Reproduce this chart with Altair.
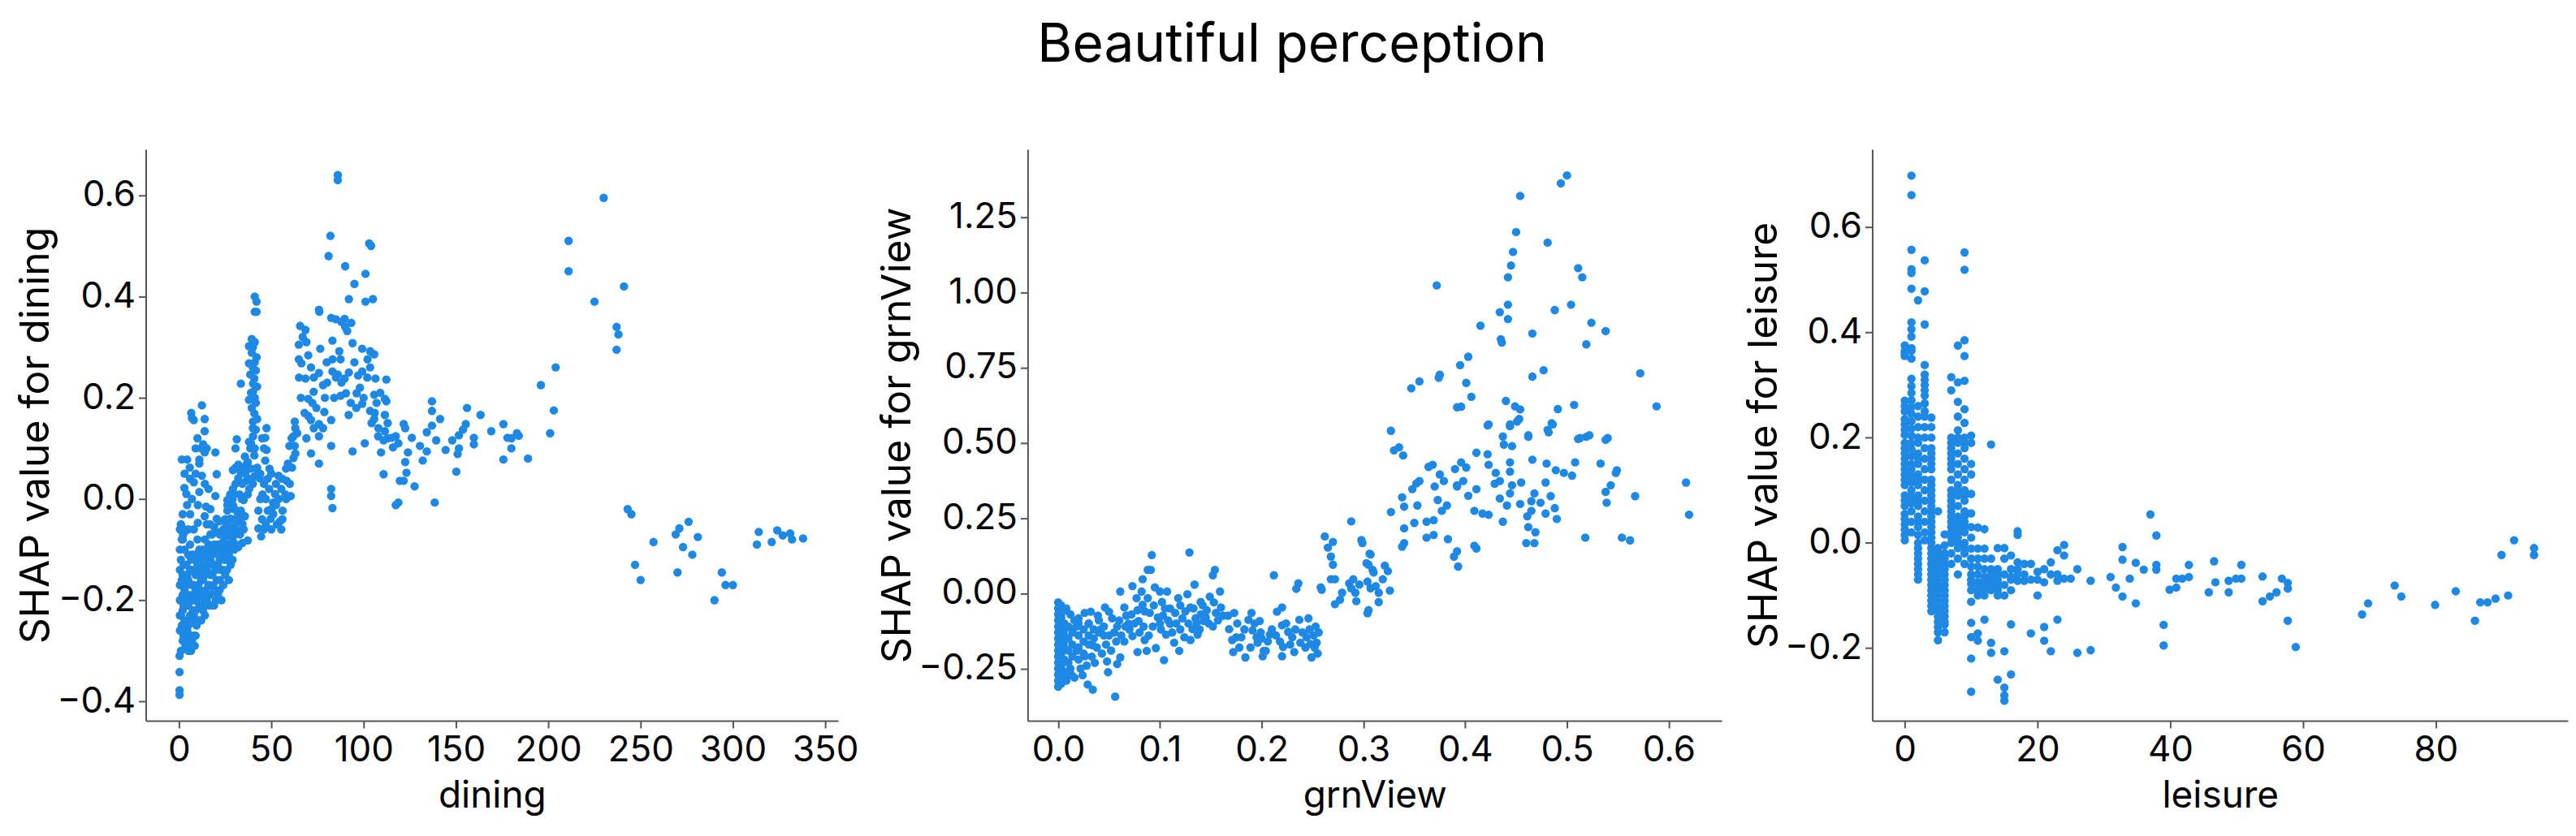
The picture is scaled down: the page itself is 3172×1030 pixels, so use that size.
import altair as alt
import pandas as pd

TITLE = "Beautiful perception"
BLUE = "#1E88E5"

# ---------------- dining (x = dining, y = SHAP value) ----------------
dining_low = [
    (0.3,-0.387),(0.3,-0.378),(0.3,-0.342),(0.3,-0.31),(0.5,-0.23),(0.5,-0.26),(1.5,-0.25),(2.5,-0.27),
    (3.5,-0.29),(4.5,-0.26),(5.5,-0.28),(6.5,-0.3),(7.5,-0.27),(8.5,-0.29),(9.5,-0.25),(10.5,-0.24),
    (3,-0.24),(6,-0.23),(8,-0.23),(7,-0.24),(9,-0.22),(12,-0.24),(5,-0.3),(6,-0.29),(4,-0.27),(7,-0.28),
    (2,-0.28),(1,-0.3),(5,-0.25),(9,-0.27),
]
dining_blob = [
    (1,-0.12),(2,-0.15),(3,-0.18),(1,-0.2),(2,-0.22),(4,-0.13),(5,-0.16),(6,-0.19),(4,-0.21),(5,-0.11),
    (7,-0.14),(8,-0.17),(7,-0.2),(9,-0.12),(10,-0.15),(9,-0.18),(11,-0.21),(12,-0.13),(13,-0.16),(12,-0.19),
    (14,-0.11),(15,-0.14),(16,-0.17),(15,-0.2),(17,-0.12),(18,-0.15),(19,-0.18),(18,-0.21),(20,-0.1),(21,-0.13),
    (22,-0.16),(21,-0.19),(23,-0.11),(24,-0.14),(25,-0.12),(26,-0.09),(27,-0.11),(28,-0.13),(29,-0.08),(30,-0.1),
    (3,-0.1),(6,-0.09),(0.5,-0.14),(0.5,-0.17),(0.5,-0.1),(11,-0.18),(13,-0.22),(16,-0.21),(20,-0.2),(22,-0.18),
    (24,-0.17),(19,-0.09),(14,-0.08),(17,-0.07),(10,-0.08),(25,-0.15),(11,-0.1),(2,-0.08),(5,-0.06),(1,-0.05),
    (3,-0.065),(14,-0.2),(23,-0.2),(26,-0.14),(27,-0.16),(29,-0.12),(28,-0.06),(31,-0.06),(31,-0.09),(33,-0.07),
    (13,-0.1),(15,-0.05),(17,-0.02),(4,0.01),(6,-0.03),(8,-0.06),(2,-0.03),(8,-0.11),(10,-0.11),(12,-0.16),
    (14,-0.15),(16,-0.13),(18,-0.11),(20,-0.14),(22,-0.12),(24,-0.1),(3,-0.21),(6,-0.14),(9,-0.15),(11,-0.14),
    (13,-0.19),(17,-0.15),(19,-0.13),(21,-0.09),(23,-0.07),(7,-0.17),(4,-0.17),(2,-0.19),(10,-0.19),(15,-0.1),
    (26,-0.05),(1.5,-0.16),(2.5,-0.13),(3.5,-0.2),(4.5,-0.15),(5.5,-0.2),(6.5,-0.12),(7.5,-0.22),(8.5,-0.14),
    (9.5,-0.2),(10.5,-0.17),(11.5,-0.12),(12.5,-0.21),(13.5,-0.14),(14.5,-0.18),(15.5,-0.12),(16.5,-0.19),
    (17.5,-0.1),(18.5,-0.17),(19.5,-0.14),(20.5,-0.16),(21.5,-0.11),(22.5,-0.14),(23.5,-0.09),(24.5,-0.12),
    (25.5,-0.07),(27.5,-0.09),(28.5,-0.04),(30.5,-0.07),(32,-0.03),(1,-0.23),(2,-0.25),(3,-0.27),(4,-0.24),
    (1.5,-0.08),(0.5,-0.06),(0.5,-0.2),(2.5,-0.21),(5,-0.21),(8,-0.2),(11,-0.24),(14,-0.23),(17,-0.21),
    (19,-0.21),(3,-0.15),(7,-0.11),(10,-0.13),(16,-0.09),(18,-0.07),(22,-0.07),(25,-0.04),(27,-0.02),
    (30,-0.02),(29,0.0),(24,-0.06),
]
dining_column = [
    (12.4,0.185),(6.6,0.17),(8,0.156),(13.9,0.158),(13.9,0.134),(13.1,0.108),(13.9,0.092),(11,0.078),
    (1.5,0.078),(4.4,0.078),(5.8,0.062),(19.7,0.092),(20.4,0.049),(12.4,0.046),(8,0.033),(2.9,0.022),
    (11,0.014),(19.7,0.006),(4.4,-0.012),(10.2,-0.012),(14.6,-0.015),(1.5,-0.055),(2.2,-0.071),(10.2,-0.047),
    (13.9,-0.034),(20.4,-0.039),(19,-0.055),(16.8,-0.05),(7,0.16),(12,0.1),(11,0.07),(9,0.05),(14,0.03),
    (7,0.0),(16,0.02),(6,0.04),(3,0.05),(9,0.1),(10,0.12),(15,0.1),
]
dining_band = [
    (26.2,-0.002),(27.7,0.009),(29.2,0.02),(30.6,0.03),(32.1,0.041),(33.5,0.052),(35,0.062),(36.5,0.068),
    (30.6,0.062),(32.8,0.009),(35,-0.002),(36.5,0.036),(37.2,0.009),(35.7,-0.034),(35,-0.06),(37.2,-0.082),
    (34.3,-0.087),(32.1,-0.095),(26.2,-0.023),(24.8,-0.044),(27.7,-0.039),(29.2,-0.012),(31.3,-0.023),
    (26.2,-0.06),(28.4,-0.076),(24.8,-0.076),(23.3,-0.087),(29.9,-0.055),(32.8,-0.044),(33.5,-0.023),
    (29.9,0.009),(34.3,0.03),(35.7,0.084),(32.1,0.068),(29.2,0.057),(26.2,-0.012),(21.9,-0.044),(21.1,-0.066),
    (32.1,-0.066),(34.3,-0.049),(31.3,0.118),(30.6,0.1),(33.5,0.228),(38,0.02),(36,0.05),(34,0.0),(31,-0.04),
    (28,-0.1),(25,-0.1),(22,-0.09),
]
dining_spike = [
    (41,0.40),(42,0.39),(41,0.37),(42,0.37),(39.4,0.316),(37.9,0.302),(39.4,0.289),(37.9,0.268),(41.6,0.254),
    (38.6,0.246),(40.8,0.238),(40.1,0.228),(42.3,0.222),(40.1,0.212),(40.8,0.198),(37.9,0.196),(41.6,0.19),
    (39.4,0.18),(40.8,0.169),(42.3,0.158),(40.1,0.153),(41.6,0.137),(40.1,0.124),(37.9,0.113),(38.6,0.1),
    (40.8,0.086),(37.2,0.073),(39,0.06),(41,0.045),(40,0.26),(41,0.27),(39,0.21),(41,0.2),(40,0.14),
    (39,0.11),(41,0.1),(42,0.06),(40,0.03),(38,0.04),(41,0.31),(40,0.3),(42,0.28),
]
dining_mid = [
    (42.3,0.062),(46.7,0.076),(47.4,0.097),(46.7,0.121),(47.4,0.14),(43.7,0.041),(45.2,0.009),(43,-0.023),
    (43,-0.058),(44.5,-0.074),(49.6,-0.039),(51,-0.007),(52.5,0.03),(53.9,0.046),(55.4,-0.06),(54.7,-0.044),
    (56.1,-0.023),(57.6,0.009),(58.3,0.036),(60.5,0.006),(61.2,0.062),(62,0.081),(62.7,0.105),(62,0.124),
    (62.7,0.153),(59.8,0.105),(48.8,0.02),(52.5,-0.012),(48.1,-0.023),(55.4,0.02),(45,-0.04),(47,0.0),
    (50,0.05),(53,-0.05),(56,0.04),(58,0.06),(46,0.03),(51,-0.03),(44,0.0),(49,0.06),(44,0.05),(46,-0.06),
    (48,0.04),(50,-0.02),(52,0.01),(54,0.0),(56,-0.04),(58,0.0),(60,0.03),(59,0.07),(63,0.09),(61,0.12),
    (63,0.14),(64,0.13),(50,-0.06),(47,-0.05),(46,0.1),(45,0.12),
]
dining_cloud = [
    (86,0.64),(86,0.63),(82,0.52),(81,0.48),(90,0.46),(103,0.505),(104,0.5),(101,0.445),(95,0.425),
    (92,0.395),(101,0.39),(105,0.395),(76,0.37),(75.8,0.374),(65.6,0.342),(68.5,0.334),(64.9,0.305),
    (70,0.284),(64.9,0.276),(66.3,0.268),(71.5,0.26),(75.8,0.249),(68.5,0.238),(76.5,0.297),(82.4,0.358),
    (89.7,0.356),(93.3,0.348),(91.1,0.332),(83.1,0.313),(94,0.308),(86.8,0.292),(87.5,0.276),(83.1,0.276),
    (99.2,0.297),(103.5,0.292),(105.7,0.286),(102.1,0.276),(103.5,0.26),(99.2,0.252),(97,0.244),(83.1,0.252),
    (86,0.246),(89.7,0.238),(80.2,0.23),(78,0.225),(106.4,0.238),(112.3,0.236),(96.2,0.209),(90.4,0.209),
    (87.5,0.204),(72.9,0.212),(70,0.198),(72.2,0.19),(74.4,0.18),(105.7,0.206),(111.5,0.198),(112.3,0.193),
    (99.2,0.188),(91.9,0.166),(78.7,0.172),(82.4,0.156),(70,0.164),(71.5,0.156),(75.8,0.148),(78,0.14),
    (75.8,0.124),(103.5,0.174),(105.7,0.158),(104.3,0.15),(111.5,0.166),(113,0.15),(111.5,0.134),(107.9,0.124),
    (110.8,0.116),(82.4,0.105),(71.5,0.09),(75.8,0.07),(94,0.094),(100.6,0.11),(109.4,0.092),(110.8,0.049),
    (82.4,0.02),(82.4,0.006),(83.1,-0.018),(88,0.35),(90,0.34),(85,0.355),(67,0.32),(69,0.31),(73,0.24),
    (80,0.27),(85,0.24),(88,0.23),(92,0.25),(95,0.27),(98,0.22),(100,0.2),(102,0.24),(107,0.19),(109,0.21),
    (106,0.17),(108,0.14),(113,0.12),(79,0.2),(84,0.2),(93,0.19),(96,0.18),(68,0.17),(73,0.14),(69,0.12),
    (66,0.2),(65,0.24),
]
dining_tail = [
    (115.2,0.121),(117.4,0.124),(118.8,0.11),(115.9,0.102),(121.7,0.148),(122.5,0.14),(126.1,0.121),(124,0.092),
    (122.5,0.073),(123.2,0.052),(121.7,0.036),(119.6,0.036),(127.6,0.025),(118.8,-0.007),(117.4,-0.012),
    (130.5,0.105),(132,0.076),(134.2,0.094),(137,0.193),(137,0.174),(141.4,0.158),(137,0.145),(134.2,0.132),
    (139.3,0.116),(144.4,0.097),(138.5,-0.007),(148,0.116),(151.6,0.126),(153.8,0.137),(155.3,0.148),(156,0.18),
    (151.6,0.1),(150.9,0.089),(150.2,0.054),(159.7,0.121),(159.7,0.108),(163.3,0.166),(169.1,0.134),
    (175.7,0.148),(177.9,0.121),(175.7,0.078),(180,0.12),(183,0.13),(184,0.125),(180,0.1),(189,0.08),
]
dining_far = [
    (196,0.225),(201,0.13),(203,0.175),(204,0.26),(211,0.51),(211,0.45),(225,0.39),(230,0.595),(237,0.34),
    (238,0.325),(237,0.295),(241,0.42),(243,-0.02),(245,-0.03),(247,-0.13),(250,-0.16),(257,-0.085),
    (269,-0.07),(271,-0.058),(270,-0.145),(273,-0.095),(276,-0.045),(278,-0.11),(281,-0.075),(290,-0.2),
    (294,-0.145),(296,-0.17),(300,-0.17),(313,-0.09),(314,-0.065),(321,-0.085),(324,-0.062),(327,-0.072),
    (331,-0.068),(332,-0.08),(338,-0.078),
]

# ---------------- grnView ----------------
grn_zero = [
    (0,-0.03),(0,-0.05),(0,-0.07),(0,-0.09),(0,-0.11),(0,-0.13),(0,-0.15),(0,-0.17),(0,-0.19),(0,-0.21),
    (0,-0.23),(0,-0.25),(0,-0.27),(0,-0.29),(0,-0.31),(0.003,-0.04),(0.003,-0.08),(0.003,-0.12),(0.003,-0.16),
    (0.003,-0.2),(0.003,-0.24),(0.003,-0.28),(0.003,-0.3),(0.006,-0.1),(0.006,-0.14),(0.006,-0.18),
    (0.006,-0.22),(0.006,-0.26),(0.006,-0.12),(0.006,-0.16),(0.01,-0.11),(0.01,-0.15),(0.01,-0.19),
    (0.01,-0.23),(0.01,-0.27),(0.014,-0.13),(0.014,-0.17),(0.014,-0.21),(0.014,-0.12),(0.02,-0.14),
    (0.02,-0.18),(0.02,-0.22),(0.02,-0.1),(0.025,-0.12),(0.025,-0.16),(0.025,-0.2),(0.03,-0.1),(0.03,-0.14),
    (0.03,-0.17),(0.035,-0.12),(0.035,-0.15),(0.04,-0.09),(0.04,-0.13),(0.045,-0.11),(0.045,-0.14),
    (0.008,-0.05),(0.012,-0.07),(0.016,-0.09),(0.022,-0.25),(0.028,-0.24),(0.033,-0.21),(0.038,-0.18),
    (0.043,-0.2),(0.047,-0.17),(0.008,-0.29),(0.012,-0.25),(0.016,-0.28),(0.005,-0.06),(0.002,-0.2),
]
grn_low = [
    (0.013,-0.271),(0.024,-0.272),(0.029,-0.303),(0.034,-0.32),(0.056,-0.343),(0.049,-0.262),(0.048,-0.226),
    (0.058,-0.235),(0.061,-0.213),(0.036,-0.231),(0.026,-0.209),(0.034,-0.173),(0.018,-0.191),(0.018,-0.11),
    (0.02,-0.083),(0.026,-0.065),(0.032,-0.061),(0.03,-0.101),(0.039,-0.074),(0.042,-0.119),(0.046,-0.047),
    (0.05,-0.061),(0.053,-0.083),(0.057,-0.16),(0.058,-0.11),(0.061,0.006),(0.065,-0.047),(0.067,-0.074),
    (0.069,-0.101),(0.073,-0.142),(0.073,0.024),(0.077,-0.016),(0.078,-0.056),(0.079,-0.092),(0.082,0.006),
    (0.083,0.047),(0.083,-0.038),(0.085,-0.155),(0.078,-0.195),(0.087,-0.191),(0.088,0.078),(0.091,0.078),
    (0.092,0.127),(0.088,-0.016),(0.09,-0.065),(0.093,-0.11),(0.095,0.02),(0.096,-0.182),(0.1,0.006),
    (0.102,-0.029),(0.103,-0.074),(0.104,-0.222),(0.106,-0.137),(0.107,0.006),(0.11,-0.101),(0.114,-0.164),
    (0.115,-0.065),(0.118,-0.016),(0.119,-0.191),(0.122,-0.083),(0.124,-0.146),(0.127,-0.003),(0.129,0.136),
    (0.13,-0.155),(0.13,-0.047),(0.132,-0.119),(0.134,0.029),(0.135,-0.083),(0.137,-0.137),(0.14,-0.029),
    (0.143,-0.092),(0.146,-0.056),(0.149,-0.011),(0.152,0.06),(0.154,0.078),(0.152,-0.11),(0.155,-0.065),
    (0.159,0.006),(0.16,-0.047),(0.162,-0.074),(0.06,-0.09),(0.07,-0.12),(0.11,-0.05),(0.12,-0.12),
    (0.14,-0.07),(0.1,-0.1),(0.085,-0.06),(0.05,-0.14),(0.065,-0.16),(0.052,-0.19),(0.055,-0.13),
    (0.062,-0.14),(0.066,-0.11),(0.072,-0.07),(0.075,-0.1),(0.08,-0.13),(0.084,-0.11),(0.089,-0.14),
    (0.094,-0.04),(0.098,-0.08),(0.101,-0.12),(0.105,-0.05),(0.108,-0.09),(0.112,-0.13),(0.116,-0.1),
    (0.12,-0.04),(0.125,-0.06),(0.128,-0.1),(0.133,-0.05),(0.136,-0.1),(0.139,-0.12),(0.142,-0.04),
    (0.145,-0.08),(0.148,-0.1),(0.153,-0.03),(0.157,-0.09),
]
grn_mid = [
    (0.167,-0.074),(0.173,-0.065),(0.168,-0.119),(0.171,-0.155),(0.172,-0.195),(0.175,-0.146),(0.18,-0.146),
    (0.184,-0.213),(0.187,-0.088),(0.19,-0.065),(0.191,-0.123),(0.195,-0.146),(0.196,-0.164),(0.198,-0.092),
    (0.201,-0.209),(0.202,-0.191),(0.204,-0.191),(0.208,-0.137),(0.212,0.06),(0.215,-0.061),(0.22,-0.047),
    (0.22,-0.106),(0.221,-0.178),(0.22,-0.209),(0.226,-0.128),(0.23,-0.146),(0.232,-0.195),(0.234,0.015),
    (0.236,0.033),(0.237,-0.088),(0.238,-0.164),(0.244,-0.146),(0.246,-0.083),(0.248,-0.168),(0.249,-0.213),
    (0.253,-0.11),(0.254,-0.164),(0.255,-0.2),(0.258,0.02),(0.262,0.189),(0.265,0.152),(0.27,0.171),
    (0.268,0.122),(0.27,0.095),(0.268,0.047),(0.272,0.047),(0.259,0.012),(0.299,0.167),(0.307,0.129),
    (0.305,0.095),(0.31,0.069),(0.321,0.092),(0.324,0.074),(0.319,0.047),(0.326,0.009),(0.315,0.002),
    (0.312,0.024),(0.307,0.017),(0.315,-0.029),(0.304,-0.066),(0.293,-0.026),(0.29,0.047),(0.288,0.017),
    (0.279,0.002),(0.277,-0.021),(0.272,-0.036),(0.292,0.002),(0.296,0.029),(0.304,0.039),(0.288,0.239),
    (0.286,0.033),(0.298,0.177),(0.303,0.1),(0.306,0.132),(0.309,0.078),(0.305,-0.056),
    (0.176,-0.1),(0.183,-0.12),(0.189,-0.18),(0.193,-0.1),(0.199,-0.13),(0.206,-0.16),(0.21,-0.12),
    (0.214,-0.14),(0.218,-0.16),(0.224,-0.1),(0.228,-0.17),(0.233,-0.12),(0.24,-0.13),(0.243,-0.18),
    (0.247,-0.12),(0.251,-0.14),(0.256,-0.13),(0.252,-0.18),(0.178,-0.18),(0.2,-0.15),
]
grn_high = [
    (0.5,1.388),(0.494,1.362),(0.454,1.32),(0.45,1.2),(0.481,1.165),(0.447,1.134),(0.445,1.089),(0.442,1.05),
    (0.511,1.08),(0.515,1.05),(0.372,1.023),(0.504,0.959),(0.442,0.959),(0.488,0.941),(0.434,0.934),
    (0.442,0.911),(0.415,0.889),(0.524,0.899),(0.538,0.871),(0.466,0.863),(0.435,0.844),(0.436,0.833),
    (0.519,0.827),(0.403,0.786),(0.395,0.758),(0.477,0.741),(0.572,0.731),(0.375,0.726),(0.374,0.716),
    (0.466,0.72),(0.355,0.704),(0.347,0.681),(0.401,0.699),(0.406,0.653),(0.44,0.639),(0.507,0.626),
    (0.588,0.621),(0.449,0.621),(0.454,0.611),(0.491,0.612),(0.392,0.618),(0.396,0.62),(0.422,0.558),
    (0.486,0.561),(0.444,0.555),(0.451,0.571),(0.327,0.54),(0.462,0.52),(0.482,0.535),(0.511,0.513),
    (0.519,0.52),(0.538,0.51),(0.389,0.122),(0.393,0.089),(0.411,0.149),(0.338,0.155),
]
grn_cloud = [
    (0.335,0.485),(0.339,0.458),(0.368,0.427),(0.375,0.395),(0.379,0.373),(0.39,0.413),(0.392,0.359),
    (0.396,0.435),(0.401,0.418),(0.398,0.373),(0.411,0.467),(0.422,0.462),(0.423,0.427),(0.43,0.4),
    (0.429,0.364),(0.434,0.373),(0.444,0.435),(0.444,0.404),(0.446,0.359),(0.444,0.332),(0.455,0.368),
    (0.466,0.444),(0.48,0.431),(0.489,0.409),(0.497,0.4),(0.505,0.391),(0.508,0.435),(0.533,0.431),
    (0.549,0.409),(0.479,0.368),(0.468,0.332),(0.465,0.306),(0.474,0.301),(0.484,0.323),(0.488,0.283),
    (0.49,0.247),(0.479,0.265),(0.461,0.256),(0.465,0.274),(0.454,0.297),(0.441,0.292),(0.434,0.315),
    (0.437,0.238),(0.462,0.22),(0.469,0.203),(0.46,0.167),(0.468,0.167),(0.518,0.185),(0.554,0.185),
    (0.562,0.176),(0.539,0.301),(0.538,0.337),(0.543,0.359),(0.567,0.323),(0.617,0.368),(0.62,0.261),
    (0.409,0.274),(0.417,0.265),(0.423,0.261),(0.403,0.324),(0.411,0.346),(0.392,0.355),(0.382,0.292),
    (0.377,0.274),(0.373,0.31),(0.369,0.243),(0.362,0.238),(0.35,0.234),(0.353,0.292),(0.348,0.346),
    (0.338,0.319),(0.34,0.216),(0.327,0.27),(0.34,0.288),(0.37,0.355),(0.355,0.373),(0.383,0.18),
    (0.409,0.158),(0.34,0.167),(0.362,0.185),(0.369,0.194),(0.392,0.14),(0.437,0.521),(0.438,0.494),
    (0.446,0.489),(0.481,0.543),(0.485,0.565),(0.513,0.516),(0.522,0.525),(0.54,0.516),(0.462,0.525),
    (0.423,0.561),(0.444,0.561),(0.453,0.579),(0.33,0.475),(0.364,0.42),(0.548,0.4),(0.352,0.365),
]

# ---------------- leisure ----------------
leisure_0_3 = [
    (0,0.375),(0,0.365),(0,0.36),(0,0.355),(0,0.27),(0,0.26),(0,0.25),(0,0.235),(0,0.225),(0,0.215),
    (0,0.205),(0,0.19),(0,0.18),(0,0.17),(0,0.16),(0,0.15),(0,0.14),(0,0.13),(0,0.12),(0,0.11),(0,0.09),
    (0,0.08),(0,0.07),(0,0.055),(0,0.045),(0,0.035),(0,0.025),(0,0.015),(0,0.005),
    (1,0.698),(1,0.661),(1,0.557),(1,0.52),(1,0.513),(1,0.483),(1,0.419),(1,0.406),(1,0.392),(1,0.37),
    (1,0.365),(1,0.35),(1,0.312),(1,0.298),(1,0.285),(1,0.271),(1,0.258),(1,0.245),(1,0.231),(1,0.217),
    (1,0.204),(1,0.19),(1,0.178),(1,0.165),(1,0.15),(1,0.14),(1,0.128),(1,0.115),(1,0.1),(1,0.088),
    (1,0.075),(1,0.06),(1,0.04),(1,0.02),
    (2,0.461),(2,0.26),(2,0.22),(2,0.19),(2,0.17),(2,0.15),(2,0.13),(2,0.11),(2,0.09),(2,0.07),(2,0.05),
    (2,0.03),(2,0.015),(2,-0.01),(2,-0.03),(2,-0.05),(2,-0.07),(2,0.24),(2,0.2),(2,0.16),(2,0.12),(2,0.08),
    (2,0.04),(2,0.0),(2,-0.02),(2,-0.04),(2,-0.06),
    (3,0.537),(3,0.478),(3,0.415),(3,0.338),(3,0.32),(3,0.31),(3,0.3),(3,0.29),(3,0.28),(3,0.265),(3,0.25),
    (3,0.24),(3,0.22),(3,0.2),(3,0.18),(3,0.16),(3,0.14),(3,0.12),(3,0.1),(3,0.08),(3,0.06),(3,0.04),
    (3,0.02),(3,0.005),
]
leisure_4_9 = [
    (4,0.238),(4,0.2),(4,0.17),(4,0.15),(4,0.12),(4,0.1),(4,0.08),(4,0.06),(4,0.04),(4,0.02),(4,0.0),
    (4,-0.02),(4,-0.04),(4,-0.06),(4,-0.08),(4,-0.1),(4,-0.12),(4,-0.13),(4,0.22),(4,0.18),(4,0.16),
    (4,0.14),(4,0.11),(4,0.09),(4,0.07),(4,0.05),(4,0.03),(4,0.01),(4,-0.01),(4,-0.03),(4,-0.05),
    (4,-0.07),(4,-0.09),(4,-0.11),
    (5,0.06),(5,-0.01),(5,-0.03),(5,-0.05),(5,-0.06),(5,-0.07),(5,-0.08),(5,-0.09),(5,-0.1),(5,-0.11),
    (5,-0.12),(5,-0.13),(5,-0.14),(5,-0.15),(5,-0.16),(5,-0.17),(5,-0.185),(5,-0.02),(5,-0.04),
    (6,0.016),(6,-0.005),(6,-0.02),(6,-0.04),(6,-0.06),(6,-0.08),(6,-0.1),(6,-0.12),(6,-0.14),(6,-0.155),
    (6,-0.17),(6,-0.03),(6,-0.05),(6,-0.07),(6,-0.09),(6,-0.11),(6,-0.13),(6,-0.15),
    (7,0.315),(7,0.29),(7,0.2),(7,0.19),(7,0.18),(7,0.17),(7,0.16),(7,0.15),(7,0.14),(7,0.12),(7,0.1),
    (7,0.09),(7,0.08),(7,0.07),(7,0.06),(7,0.05),(7,0.04),(7,0.03),(7,0.02),(7,0.01),(7,0.0),(7,-0.02),
    (7,-0.04),
    (8,0.375),(8,0.305),(8,0.268),(8,0.24),(8,0.214),(8,0.2),(8,0.19),(8,0.17),(8,0.15),(8,0.13),(8,0.11),
    (8,0.1),(8,0.09),(8,0.07),(8,0.05),(8,0.04),(8,0.03),(8,0.02),(8,0.01),(8,0.0),(8,-0.01),(8,-0.03),
    (8,-0.06),
    (9,0.552),(9,0.519),(9,0.385),(9,0.355),(9,0.308),(9,0.254),(9,0.228),(9,0.2),(9,0.19),(9,0.18),
    (9,0.16),(9,0.14),(9,0.12),(9,0.1),(9,0.09),(9,0.08),(9,0.06),(9,0.05),(9,0.04),(9,0.03),(9,0.02),
    (9,0.0),(9,-0.01),(9,-0.02),(9,-0.04),
]
leisure_10_28 = [
    (10,0.204),(10,0.19),(10,0.15),(10,0.13),(10,0.093),(10,0.056),(10,0.03),(10,0.01),(10,-0.011),
    (10,-0.045),(10,-0.06),(10,-0.078),(10,-0.112),(10,-0.152),(10,-0.179),(10,-0.22),(10,-0.283),
    (10,-0.03),(10,-0.07),(10,-0.09),
    (11,0.029),(11,-0.011),(11,-0.045),(11,-0.06),(11,-0.075),(11,-0.09),(11,-0.1),(11,-0.172),(11,-0.186),
    (11,-0.03),(11,-0.08),
    (12,0.026),(12,-0.011),(12,-0.05),(12,-0.065),(12,-0.08),(12,-0.1),(12,-0.146),(12,-0.03),(12,-0.07),
    (12,-0.09),
    (13,0.187),(13,-0.03),(13,-0.05),(13,-0.07),(13,-0.09),(13,-0.19),(13,-0.209),(13,-0.06),(13,-0.08),
    (14,-0.01),(14,-0.05),(14,-0.07),(14,-0.08),(14,-0.1),(14,-0.26),(14,-0.06),(14,-0.09),
    (15,-0.01),(15,-0.03),(15,-0.06),(15,-0.08),(15,-0.1),(15,-0.206),(15,-0.275),(15,-0.29),(15,-0.3),
    (16,-0.024),(16,-0.05),(16,-0.065),(16,-0.155),(16,-0.25),(16,-0.07),(16,-0.09),
    (17,0.022),(17,0.015),(17,-0.037),(17,-0.05),(17,-0.072),(17,-0.06),
    (18,-0.04),(18,-0.072),(18,-0.06),(19,-0.04),(19,-0.172),(19,-0.07),(20,-0.055),(20,-0.1),(20,-0.07),
    (21,-0.05),(21,-0.075),(21,-0.16),(21,-0.186),(22,-0.037),(22,-0.206),(22,-0.06),
    (23,-0.014),(23,-0.072),(23,-0.146),(23,-0.06),(24,-0.004),(24,-0.024),(24,-0.068),(25,-0.068),
    (26,-0.05),(26,-0.209),(28,-0.072),(28,-0.204),
]
leisure_far = [
    (31,-0.065),(31.8,-0.085),(32.8,-0.008),(32.8,-0.032),(32.8,-0.102),(33.9,-0.068),(34.8,-0.038),
    (34.8,-0.115),(36,-0.051),(37,0.054),(37.9,0.014),(37.9,-0.042),(37.9,-0.051),(39,-0.156),(39,-0.195),
    (39.9,-0.089),(40.9,-0.085),(40.9,-0.068),(41.8,-0.068),(42.8,-0.042),(42.8,-0.065),(45.8,-0.094),
    (46.6,-0.035),(46.8,-0.075),(48.8,-0.072),(48.8,-0.094),(49.9,-0.068),(50.7,-0.042),(50.7,-0.068),
    (53.9,-0.064),(53.9,-0.111),(55,-0.102),(56,-0.094),(56.8,-0.068),(57.7,-0.076),(57.7,-0.087),
    (57.7,-0.148),(58.9,-0.198),(68.9,-0.136),(69.8,-0.115),(73.8,-0.081),(74.8,-0.102),(79.9,-0.118),
    (83,-0.092),(85.9,-0.148),(86.7,-0.113),(87.8,-0.113),(89,-0.106),(89.9,-0.023),(90.9,-0.1),
    (91.8,0.005),(94.8,-0.01),(94.8,-0.023),
]

dining = dining_low + dining_blob + dining_column + dining_band + dining_spike + dining_mid + dining_cloud + dining_tail + dining_far
grnview = grn_zero + grn_low + grn_mid + grn_high + grn_cloud
leisure = leisure_0_3 + leisure_4_9 + leisure_10_28 + leisure_far

FONT = "Inter"
H = 706


def panel(points, name, xdom, ydom, xticks, yticks, xfmt, yfmt, width):
    df = pd.DataFrame(points, columns=["x", "y"])
    return alt.Chart(df).mark_circle(size=108, color=BLUE, opacity=1).encode(
        x=alt.X("x:Q", title=name,
                scale=alt.Scale(domain=xdom, nice=False, zero=False),
                axis=alt.Axis(values=xticks, format=xfmt, labelPadding=6, titlePadding=12,
                              titleFontSize=46)),
        y=alt.Y("y:Q", title=f"SHAP value for {name}",
                scale=alt.Scale(domain=ydom, nice=False, zero=False),
                axis=alt.Axis(values=yticks, format=yfmt, labelPadding=4, titlePadding=0,
                              titleFontSize=50)),
    ).properties(width=width, height=H)


p1 = panel(dining, "dining", [-18, 357], [-0.438, 0.691],
           [0, 50, 100, 150, 200, 250, 300, 350], [-0.4, -0.2, 0.0, 0.2, 0.4, 0.6], "d", ".1f", 855)
p2 = panel(grnview, "grnView", [-0.030, 0.652], [-0.423, 1.475],
           [0.0, 0.1, 0.2, 0.3, 0.4, 0.5, 0.6], [-0.25, 0.0, 0.25, 0.5, 0.75, 1.0, 1.25], ".1f", ".2f", 857)
p3 = panel(leisure, "leisure", [-4.9, 99.9], [-0.338, 0.748],
           [0, 20, 40, 60, 80], [-0.2, 0.0, 0.2, 0.4, 0.6], "d", ".1f", 859)

chart = alt.hconcat(alt.hconcat(p1, p2, spacing=23), p3, spacing=27).properties(
    title=alt.TitleParams(TITLE, fontSize=66, font=FONT, fontWeight="normal", color="#000",
                          anchor="middle", offset=94),
    padding={"left": 12, "top": 14, "right": 2, "bottom": 2},
    background="white",
).configure_view(stroke=None).configure_axis(
    grid=False, labelFont=FONT, labelFontSize=44, labelColor="#000",
    titleFont=FONT, titleFontWeight="normal", titleColor="#000",
    domainColor="#555", tickColor="#555", domainWidth=2, tickWidth=2, tickSize=9,
)

chart.save("out.html", embed_options={"renderer": "svg", "actions": False})
